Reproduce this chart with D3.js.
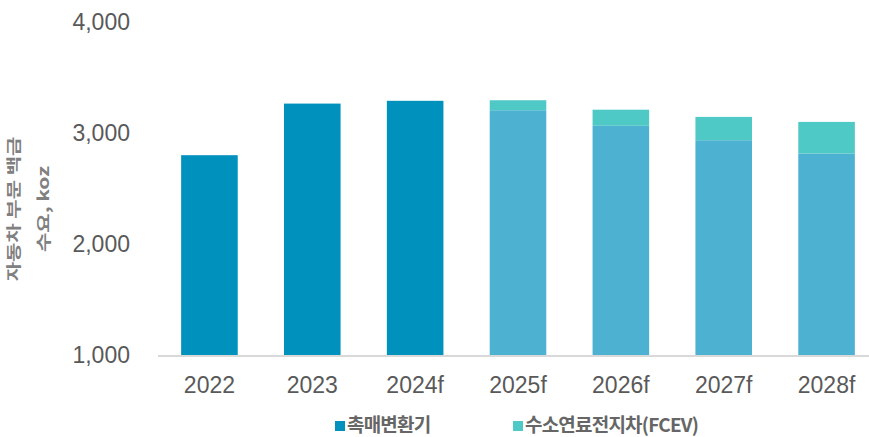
<!DOCTYPE html>
<html>
<head>
<meta charset="utf-8">
<script src="https://cdn.jsdelivr.net/npm/d3@7"></script>
<style>
  html, body { margin: 0; padding: 0; background: #fff; }
  svg { display: block; }
</style>
</head>
<body>
<svg id="chart" width="869" height="437"></svg>
<script>
// Automotive platinum demand, koz
const years = ["2022", "2023", "2024f", "2025f", "2026f", "2027f", "2028f"];
const catalyst = [2800, 3265, 3290, 3205, 3065, 2935, 2815];   // 촉매변환기
const fcev = [0, 0, 0, 90, 145, 210, 285];                     // 수소연료전지차(FCEV)
const projected = [false, false, false, true, true, true, true];
const yTicks = [1000, 2000, 3000, 4000];
const seriesNames = ["촉매변환기", "수소연료전지차(FCEV)"];
const axisTitle = ["자동차 부문 백금", "수요, koz"];

const colActual = "#0091bd";
const colProjected = "#4db1d2";
const colFcev = "#4fc9c5";
const textCol = "#595959";

const svg = d3.select("#chart");

const x = d3.scaleBand()
  .domain(years)
  .range([158, 878])
  .paddingInner(0.45)
  .paddingOuter(0.225);

const y = d3.scaleLinear()
  .domain([1000, 4000])
  .range([355, 22]);

const rows = years.map((yr, i) => ({ year: yr, catalyst: catalyst[i], fcev: fcev[i], projected: projected[i] }));

// catalytic converter bars
svg.append("g").selectAll("rect")
  .data(rows)
  .join("rect")
  .attr("x", d => x(d.year))
  .attr("width", x.bandwidth())
  .attr("y", d => y(d.catalyst))
  .attr("height", d => y(1000) - y(d.catalyst))
  .attr("fill", d => d.projected ? colProjected : colActual);

// fuel cell vehicle segment stacked on top
svg.append("g").selectAll("rect")
  .data(rows.filter(d => d.fcev > 0))
  .join("rect")
  .attr("x", d => x(d.year))
  .attr("width", x.bandwidth())
  .attr("y", d => y(d.catalyst + d.fcev))
  .attr("height", d => y(d.catalyst) - y(d.catalyst + d.fcev))
  .attr("fill", colFcev);

// baseline
svg.append("line")
  .attr("x1", 158).attr("x2", 869)
  .attr("y1", 356).attr("y2", 356)
  .attr("stroke", "#d9d9d9")
  .attr("stroke-width", 2);

// y axis labels
const yAxis = svg.append("g")
  .attr("transform", "translate(158,0)")
  .call(d3.axisLeft(y).tickValues(yTicks).tickSize(0).tickPadding(28).tickFormat(d3.format(",")));
yAxis.select(".domain").remove();
yAxis.selectAll("text")
  .attr("fill", textCol)
  .style("font-family", "'Liberation Sans', Arial, sans-serif")
  .style("font-size", "23px");

// x axis labels
const xAxis = svg.append("g")
  .attr("transform", "translate(0,355)")
  .call(d3.axisBottom(x).tickSize(0).tickPadding(22));
xAxis.select(".domain").remove();
xAxis.selectAll("text")
  .attr("fill", textCol)
  .style("font-family", "'Liberation Sans', Arial, sans-serif")
  .style("font-size", "23px");

// rotated axis title (two lines, condensed)
const title = svg.append("g")
  .attr("transform", "translate(29,209) rotate(-90) scale(1,0.72)");
title.selectAll("text")
  .data(axisTitle)
  .join("text")
  .attr("x", 0)
  .attr("y", (d, i) => (i - 0.5) * 42)
  .attr("dy", "0.35em")
  .attr("text-anchor", "middle")
  .attr("fill", "#808080")
  .style("font-family", "'Noto Sans CJK KR', sans-serif")
  .style("font-weight", "700")
  .style("font-size", "21px")
  .text(d => d);

// legend
const legendItems = [
  { name: seriesNames[0], color: colActual, x: 335 },
  { name: seriesNames[1], color: colFcev, x: 513 }
];
const legend = svg.append("g");
const li = legend.selectAll("g")
  .data(legendItems)
  .join("g")
  .attr("transform", d => `translate(${d.x},0)`);
li.append("rect")
  .attr("x", 0).attr("y", 421)
  .attr("width", 10).attr("height", 10)
  .attr("fill", d => d.color);
li.append("text")
  .attr("x", 12)
  .attr("y", 432)
  .attr("fill", "#666666")
  .style("font-family", "'Noto Sans CJK KR', sans-serif")
  .style("font-weight", "700")
  .style("font-size", "19px")
  .style("letter-spacing", "-0.8px")
  .text(d => d.name);
</script>
</body>
</html>
